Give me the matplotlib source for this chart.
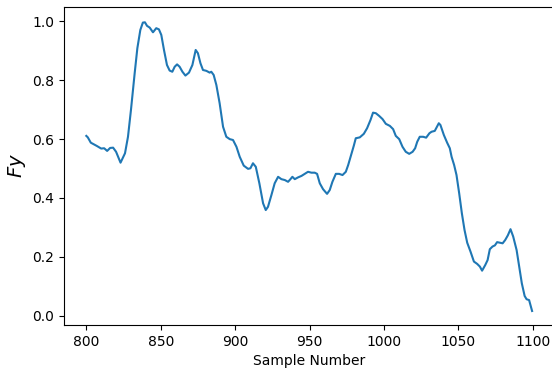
import matplotlib
matplotlib.use("Agg")
import matplotlib.pyplot as plt

sample = [800, 801, 803, 807, 810, 812, 814, 816, 818, 820, 823, 826, 828, 830,
          832.5, 834.3, 836.3, 838, 839.4, 840.8, 842.6, 844.8, 847, 848.8, 850.4,
          852.2, 854.2, 856, 857.8, 859.4, 861, 862.7, 864.6, 866.6, 869, 871.3,
          873.5, 875, 876.7, 878.4, 880.7, 882.9, 884, 885.6, 887.4, 889.6, 891.9,
          894.1, 896.4, 898.6, 900.9, 903.1, 905.8, 908.7, 910.3, 912, 913.9, 916.3,
          918.8, 920.6, 922.1, 924.4, 926.6, 928.9, 931.1, 933.4, 935.6, 937.2,
          938.5, 940.1, 942.3, 944.6, 946.8, 949, 951.3, 953.5, 955.1, 956.9, 959.1,
          961.8, 963.6, 965.4, 967.7, 969.9, 972.2, 974.4, 976, 977.6, 978.9, 979.8,
          981.1, 983.8, 986.5, 988.7, 991, 992.7, 994.6, 996.8, 999.1, 1001.3, 1004,
          1006.2, 1008, 1010.3, 1012.5, 1014.7, 1017, 1019.3, 1021, 1022.4, 1024.1,
          1026.4, 1028.4, 1030.6, 1032, 1034.2, 1036.9, 1038, 1040.3, 1042.5, 1044.3,
          1045.5, 1047.2, 1048.8, 1050.6, 1052.4, 1054.2, 1056, 1058.2, 1060.5,
          1062.7, 1064.5, 1066, 1068.1, 1069.7, 1071.2, 1073, 1074.6, 1076.1, 1077.9,
          1079.8, 1081.5, 1083.3, 1085.1, 1086.9, 1089.2, 1090.9, 1092.7, 1094.6,
          1095.9, 1097.6, 1099.6]
fy = [0.611, 0.606, 0.588, 0.577, 0.568, 0.569, 0.560, 0.570, 0.571, 0.557, 0.520,
      0.552, 0.608, 0.699, 0.824, 0.909, 0.971, 0.996, 0.997, 0.985, 0.979, 0.963,
      0.977, 0.973, 0.954, 0.903, 0.852, 0.833, 0.829, 0.846, 0.854, 0.846, 0.829,
      0.816, 0.826, 0.852, 0.903, 0.892, 0.858, 0.835, 0.832, 0.826, 0.829, 0.818,
      0.784, 0.722, 0.642, 0.608, 0.600, 0.597, 0.574, 0.540, 0.510, 0.499, 0.501,
      0.518, 0.506, 0.450, 0.382, 0.359, 0.370, 0.410, 0.450, 0.472, 0.464, 0.461,
      0.455, 0.464, 0.472, 0.464, 0.470, 0.475, 0.482, 0.489, 0.486, 0.486, 0.482,
      0.450, 0.430, 0.414, 0.427, 0.455, 0.482, 0.482, 0.478, 0.489, 0.512, 0.540,
      0.563, 0.578, 0.603, 0.606, 0.618, 0.637, 0.665, 0.690, 0.688, 0.679, 0.668,
      0.652, 0.645, 0.634, 0.611, 0.600, 0.574, 0.557, 0.550, 0.557, 0.569, 0.591,
      0.608, 0.608, 0.605, 0.620, 0.625, 0.628, 0.654, 0.648, 0.614, 0.588, 0.569,
      0.540, 0.512, 0.478, 0.416, 0.348, 0.291, 0.248, 0.218, 0.184, 0.176, 0.167,
      0.153, 0.172, 0.189, 0.226, 0.235, 0.239, 0.250, 0.248, 0.246, 0.257, 0.273,
      0.294, 0.269, 0.223, 0.167, 0.110, 0.067, 0.056, 0.053, 0.016]

xticks = [800, 850, 900, 950, 1000, 1050, 1100]
yticks = [0.0, 0.2, 0.4, 0.6, 0.8, 1.0]

fig = plt.figure(figsize=(5.52, 3.70), dpi=100)
ax = fig.add_axes([64 / 552, 45 / 370, 491 / 552, 318 / 370])
ax.plot(sample, fy, color="#1f77b4", linewidth=1.5)
ax.set_xlim(785, 1115)
ax.set_ylim(-0.0316, 1.049)
ax.set_xticks(xticks)
ax.set_yticks(yticks)
ax.set_yticklabels([f"{t:.1f}" for t in yticks])
ax.set_xlabel("Sample Number", fontsize=10)
ax.set_ylabel("$Fy$", fontsize=14, labelpad=3)
fig.savefig("out.png", dpi=100)
